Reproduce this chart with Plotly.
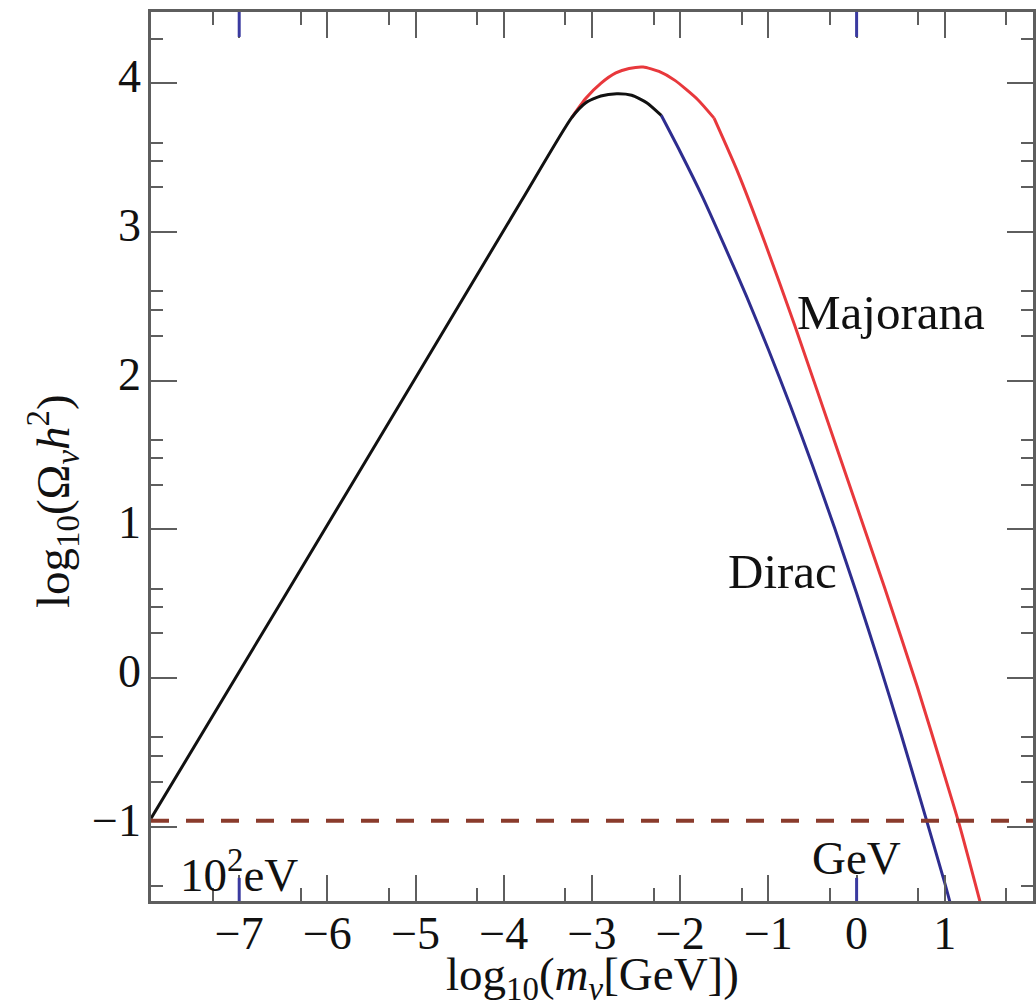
import math
import plotly.graph_objects as go

# ---------------- data ----------------
# x: log10(m_nu [GeV]),  y: log10(Omega_nu h^2)
common_x = [-8.0, -6.5, -5.0, -3.8, -3.23, -3.07, -2.9, -2.72, -2.55, -2.38, -2.215]
common_y = [-0.945, 0.535, 2.02, 3.21, 3.77, 3.87, 3.915, 3.93, 3.92, 3.87, 3.785]

majorana_peak_x = [-3.23, -3.07, -2.9, -2.73, -2.58, -2.42, -2.24, -2.06, -1.80, -1.616]
majorana_peak_y = [3.77, 3.90, 4.00, 4.07, 4.10, 4.11, 4.08, 4.02, 3.89, 3.766]

majorana_tail_x = [-1.616, -1.345, -1.04, -0.70, -0.215, 0.316, 0.689, 0.994, 1.164, 1.424]
majorana_tail_y = [3.766, 3.40, 2.93, 2.37, 1.53, 0.61, -0.06, -0.65, -0.985, -1.56]

dirac_x = [-2.215, -2.0, -1.75, -1.5, -1.25, -1.0, -0.75, -0.5, -0.25, 0.0,
           0.25, 0.5, 0.75, 1.0, 1.1]
dirac_y = [3.785, 3.54, 3.24, 2.91, 2.57, 2.21, 1.83, 1.43, 1.01, 0.57,
           0.11, -0.37, -0.87, -1.38, -1.60]

closure_level = -0.96          # dashed horizontal line
unit_marks = [-7, 0]           # 10^2 eV and GeV marks on the mass axis
unit_labels = ["10<sup>2</sup>eV", "GeV"]

x_major = list(range(-7, 2))
y_major = list(range(-1, 5))

# ---------------- styling ----------------
FONT = "Liberation Serif"
AX = "#5e5e5e"
TXT = "#111111"
RED = "#e8383c"
BLUE = "#2e2d8f"
BLACK = "#111111"
BROWN = "#8a3b2c"
BLUE_TICK = "#3a3aa0"

fig = go.Figure()


def curve(x, y, color, name, shape="spline"):
    fig.add_trace(go.Scatter(x=x, y=y, mode="lines", name=name, showlegend=False,
                             hoverinfo="skip",
                             line=dict(color=color, width=3, shape=shape, smoothing=0.6)))


curve(dirac_x, dirac_y, BLUE, "Dirac")
curve(majorana_peak_x, majorana_peak_y, RED, "Majorana")
curve(majorana_tail_x, majorana_tail_y, RED, "Majorana")
curve(common_x, common_y, BLACK, "common")

# dashed closure line
fig.add_shape(type="line", xref="paper", yref="y", x0=0, x1=1,
              y0=closure_level, y1=closure_level,
              line=dict(color=BROWN, width=4, dash="18px,17px"), layer="above")

# blue unit ticks on bottom and top
for m in unit_marks:
    fig.add_shape(type="line", xref="x", yref="paper", x0=m, x1=m, y0=0, y1=0.026,
                  line=dict(color=BLUE_TICK, width=3), layer="above")
    fig.add_shape(type="line", xref="x", yref="paper", x0=m, x1=m, y0=1, y1=1 - 0.028,
                  line=dict(color=BLUE_TICK, width=3), layer="above")

x_minor = [n + math.log10(5) for n in range(-8, 2)]
y_minor = [n + math.log10(k) for n in range(-2, 5) for k in (2, 3, 4)]
y_mid = [n + math.log10(5) for n in range(-2, 5)]

fig.update_layout(
    width=1036, height=1001,
    margin=dict(l=151, r=0, t=12, b=100),
    paper_bgcolor="white", plot_bgcolor="white",
    font=dict(family=FONT, color=TXT, size=46),
    xaxis=dict(range=[-8, 2], tickvals=x_major, ticks="inside", ticklen=26,
               tickwidth=2, tickcolor=AX, showline=True, linecolor=AX, linewidth=2.5,
               mirror="ticks", showgrid=False, zeroline=False,
               tickfont=dict(family=FONT, size=46, color=TXT), ticklabelstandoff=-10,
               minor=dict(tickvals=x_minor, ticks="inside", ticklen=13, tickwidth=2,
                          tickcolor=AX, showgrid=False)),
    yaxis=dict(range=[-1.5, 4.48], tickvals=y_major, ticks="inside", ticklen=26,
               tickwidth=2, tickcolor=AX, showline=True, linecolor=AX, linewidth=2.5,
               mirror="ticks", showgrid=False, zeroline=False,
               tickfont=dict(family=FONT, size=46, color=TXT), ticklabelshift=-7,
               ticklabelstandoff=-2,
               minor=dict(tickvals=y_minor, ticks="inside", ticklen=12, tickwidth=2,
                          tickcolor=AX, showgrid=False)),
    yaxis2=dict(range=[-1.5, 4.48], overlaying="y", side="left", tickvals=y_mid,
                ticks="inside", ticklen=22, tickwidth=2, tickcolor=AX,
                showticklabels=False, showline=False, mirror="ticks",
                showgrid=False, zeroline=False),
)

# axis titles (placed as annotations to match the reference positions)
fig.add_annotation(xref="paper", yref="paper", x=0.5, y=-0.086, showarrow=False,
                   xanchor="center", yanchor="middle",
                   text="log<sub>10</sub>(<i>m</i><sub><i>ν</i></sub>[GeV])",
                   font=dict(family=FONT, size=47, color=TXT))
fig.add_annotation(xref="paper", yref="paper", x=-0.111, y=0.45, showarrow=False,
                   xanchor="center", yanchor="middle", textangle=-90,
                   text="log<sub>10</sub>(Ω<sub><i>ν</i></sub><i>h</i><sup>2</sup>)",
                   font=dict(family=FONT, size=47, color=TXT))

annots = [
    dict(text="Majorana", x=-0.70, y=2.46, xanchor="left", yanchor="middle", size=49),
    dict(text="Dirac", x=-1.48, y=0.715, xanchor="left", yanchor="middle", size=49),
    dict(text=unit_labels[0], x=unit_marks[0], y=-1.30, xanchor="center",
         yanchor="middle", size=47),
    dict(text=unit_labels[1], x=unit_marks[1], y=-1.21, xanchor="center",
         yanchor="middle", size=47),
]
for a in annots:
    size = a.pop("size")
    fig.add_annotation(xref="x", yref="y", showarrow=False,
                       font=dict(family=FONT, size=size, color=TXT), **a)

fig.write_html("out.html")
